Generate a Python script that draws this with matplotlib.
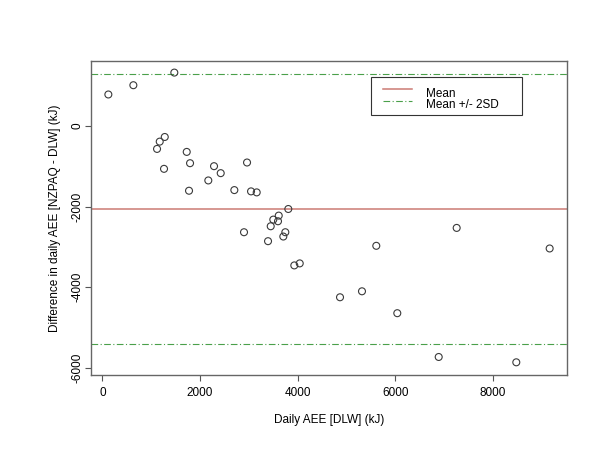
import matplotlib
matplotlib.use("Agg")
import matplotlib.pyplot as plt
from matplotlib.lines import Line2D
from matplotlib.patches import Rectangle

plt.rcParams['font.family'] = ['Liberation Sans', 'DejaVu Sans']

# Data
daily_aee_dlw = [123, 635, 1474, 1120, 1175, 1278, 1263, 1728, 1796, 1775,
                 2287, 2424, 2170, 2703, 2963, 3045, 3161, 2901, 3393, 3448,
                 3501, 3612, 3597, 3747, 3706, 3808, 3931, 4042, 4867, 5317,
                 5610, 6040, 7256, 9160, 6888, 8477]
difference = [782, 1012, 1325, -568, -387, -272, -1062, -642, -922, -1605,
              -996, -1169, -1350, -1589, -905, -1621, -1646, -2634, -2856, -2486,
              -2321, -2222, -2362, -2634, -2741, -2058, -3457, -3407, -4247, -4099,
              -2971, -4642, -2527, -3037, -5728, -5860]
mean_diff = -2050
upper_limit = 1295
lower_limit = -5405
x_ticks = [0, 2000, 4000, 6000, 8000]
y_ticks = [-6000, -4000, -2000, 0]
legend_labels = ['Mean', 'Mean +/- 2SD']

W, H = 600, 450
fig = plt.figure(figsize=(6, 4.5), dpi=100)
ax = fig.add_axes([90.7/W, 1-374.7/H, (567.3-90.7)/W, (374.7-61)/H])

ax.scatter(daily_aee_dlw, difference, s=25, facecolors='none',
           edgecolors='#3a3a3a', linewidths=0.8, zorder=3)
red = '#cc7a74'
green = '#4aa04a'
dashdot = (0, (6, 2.2, 1, 2.2))
ax.axhline(mean_diff, color=red, lw=1.1)
ax.axhline(upper_limit, color=green, lw=0.8, ls=dashdot)
ax.axhline(lower_limit, color=green, lw=0.8, ls=dashdot)

xmin, xmax = min(daily_aee_dlw), max(daily_aee_dlw)
ymin, ymax = min(difference), max(difference)
dx = (xmax - xmin) * 0.04
dy = (ymax - ymin) * 0.04
ax.set_xlim(xmin - dx, xmax + dx)
ax.set_ylim(ymin - dy - 20, ymax + dy)

ax.set_xticks(x_ticks)
ax.set_yticks(y_ticks)
ax.set_yticklabels([str(v) for v in y_ticks], rotation=90, va='center')
ax.tick_params(axis='both', direction='out', length=4.3, width=0.8,
               color='#555555', labelsize=8.5)
ax.tick_params(axis='x', pad=4.4)
ax.tick_params(axis='y', pad=1.2)
for sp in ax.spines.values():
    sp.set_color('#666666')
    sp.set_linewidth(1.0)

ax.set_xlabel('Daily AEE [DLW] (kJ)', fontsize=8.5, labelpad=11)
ax.set_ylabel('Difference in daily AEE [NZPAQ - DLW] (kJ)', fontsize=8.5, labelpad=7)

# Legend box drawn manually to match the reference geometry
fig.add_artist(Rectangle((371/W, 1-115/H), (522-371)/W, (115-77)/H,
                         transform=fig.transFigure, facecolor='white',
                         edgecolor='#333333', lw=0.8, zorder=5))
fig.add_artist(Line2D([383/W, 412/W], [1-89/H, 1-89/H], transform=fig.transFigure,
                      color=red, lw=1.1, zorder=6))
fig.add_artist(Line2D([383/W, 412/W], [1-101/H, 1-101/H], transform=fig.transFigure,
                      color=green, lw=0.8, ls=dashdot, zorder=6))
fig.text(426/W, 1-97/H, legend_labels[0], fontsize=8.5, va='baseline', zorder=7)
fig.text(426/W, 1-108.5/H, legend_labels[1], fontsize=8.5, va='baseline', zorder=7)

fig.savefig('out.png', dpi=100)
